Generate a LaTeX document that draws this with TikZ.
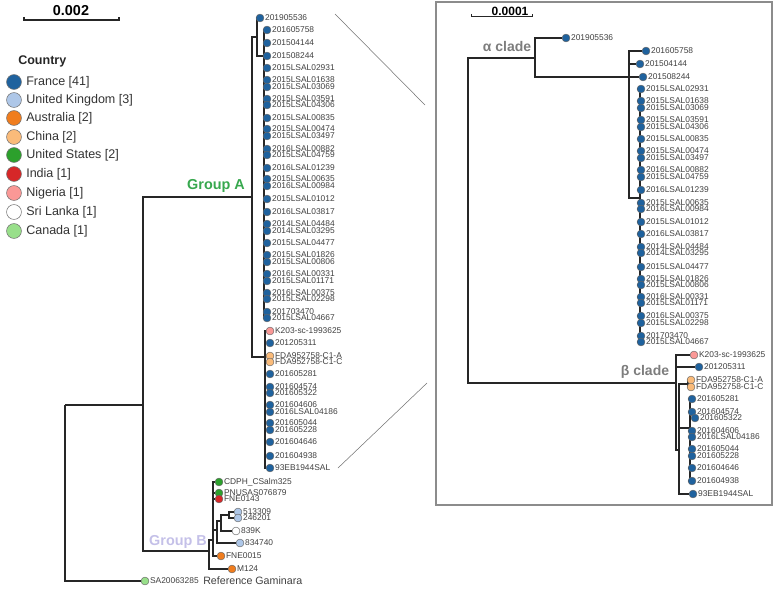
\documentclass[tikz,border=0pt]{standalone}
\usepackage{fontspec}
\setmainfont{Liberation Sans}
\pgfdeclarelayer{bg}
\pgfsetlayers{bg,main}
\definecolor{cFR}{RGB}{31,98,158}
\definecolor{cUK}{RGB}{174,199,232}
\definecolor{cAU}{RGB}{240,125,30}
\definecolor{cCN}{RGB}{250,187,122}
\definecolor{cUS}{RGB}{44,160,44}
\definecolor{cIN}{RGB}{214,39,40}
\definecolor{cNG}{RGB}{250,152,150}
\definecolor{cLK}{RGB}{255,255,255}
\definecolor{cCA}{RGB}{152,223,138}
\definecolor{grpA}{RGB}{55,168,78}
\definecolor{grpB}{RGB}{196,192,232}
\definecolor{clade}{RGB}{125,125,125}
\newcommand\leaf[5]{\node[dot,fill=#4] (#1) at (#2,#3) {}; \node[lab] at ([xshift=0.5pt]#1.east) {#5};}
\begin{document}
\begin{tikzpicture}[x=0.75pt,y=-0.75pt,
  br/.style={draw=black!85, line width=1.4pt},
  dot/.style={circle, inner sep=0pt, minimum size=5.9pt, draw=black!60, line width=0.35pt},
  lab/.style={anchor=west, inner sep=0pt, font=\fontsize{6.3}{7}\selectfont, text=black!75},
  leg/.style={circle, inner sep=0pt, minimum size=11.2pt, draw=black!55, line width=0.4pt},
  legt/.style={anchor=west, inner sep=0pt, font=\fontsize{9.4}{11}\selectfont, text=black!80},
  bar/.style={draw=black!85, line width=0.9pt},
  zoomline/.style={draw=black!55, line width=0.4pt},
  grp/.style={font=\bfseries\fontsize{10.8}{12}\selectfont, inner sep=0pt},
  cl/.style={font=\bfseries\fontsize{10.5}{12}\selectfont, inner sep=0pt, text=clade}]
\useasboundingbox (0,0) rectangle (777,592);

% ---------- scale bar and legend ----------
\coordinate (sb1) at (24,17); \coordinate (sb2) at (119,17);
\draw[bar] (sb1) -- ++(0,3) -| (sb2);
\node[font=\bfseries\fontsize{10.8}{12}\selectfont, inner sep=0pt] (sbl) at (71,11) {0.002};
\node[font=\bfseries\fontsize{9.4}{11}\selectfont, anchor=west, inner sep=0pt, text=black!85] (legtitle) at (18,61) {Country};
\foreach \i/\y/\c/\t in {1/82/cFR/France [41], 2/100/cUK/United Kingdom [3], 3/118/cAU/Australia [2],
  4/137/cCN/China [2], 5/155/cUS/United States [2], 6/174/cIN/India [1], 7/193/cNG/Nigeria [1],
  8/212/cLK/Sri Lanka [1], 9/231/cCA/Canada [1]}{
  \node[leg, fill=\c] (lg\i) at (14,\y) {};
  \node[legt] (lt\i) at (26,\y) {\t};
}

% ---------- left tree: internal nodes ----------
\coordinate (r0) at (65,405);
\coordinate (ab) at (143,405);
\coordinate (gA) at (252,197);
\coordinate (aL) at (257,37);
\coordinate (aL2) at (264,56);
\coordinate (bL) at (265,357);
\coordinate (gB) at (209,551);
\coordinate (b1) at (213,540);
\coordinate (b2) at (217,530);
\coordinate (b3) at (221,521);
\coordinate (b4) at (229,515);

% ---------- left tree: leaves ----------
\leaf{L1}{260}{18}{cFR}{201905536}
\foreach \n/\y/\t in {2/30/201605758, 3/43/201504144, 4/56/201508244, 5/68/2015LSAL02931,
  6/80/2015LSAL01638, 7/87/2015LSAL03069, 8/99/2015LSAL03591, 9/105/2015LSAL04306,
  10/118/2015LSAL00835, 11/129/2015LSAL00474, 12/136/2015LSAL03497, 13/149/2016LSAL00882,
  14/155/2015LSAL04759, 15/168/2016LSAL01239, 16/179/2015LSAL00635, 17/186/2016LSAL00984,
  18/199/2015LSAL01012, 19/212/2016LSAL03817, 20/224/2014LSAL04484, 21/231/2014LSAL03295,
  22/243/2015LSAL04477, 23/255/2015LSAL01826, 24/262/2015LSAL00806, 25/274/2016LSAL00331,
  26/281/2015LSAL01171, 27/293/2016LSAL00375, 28/299/2015LSAL02298, 29/312/201703470,
  30/318/2015LSAL04667}{\leaf{L\n}{267}{\y}{cFR}{\t}}
\leaf{L31}{270}{331}{cNG}{K203-sc-1993625}
\leaf{L32}{270}{343}{cFR}{201205311}
\leaf{L33}{270}{356}{cCN}{FDA952758-C1-A}
\leaf{L34}{270}{362}{cCN}{FDA952758-C1-C}
\foreach \n/\y/\t in {35/374/201605281, 36/387/201604574, 37/393/201605322, 38/405/201604606,
  39/412/2016LSAL04186, 40/423/201605044, 41/430/201605228, 42/442/201604646,
  43/456/201604938, 44/468/93EB1944SAL}{\leaf{L\n}{270}{\y}{cFR}{\t}}
\leaf{L45}{219}{482}{cUS}{CDPH\_CSalm325}
\leaf{L46}{219}{493}{cUS}{PNUSAS076879}
\leaf{L47}{219}{499}{cIN}{FNE0143}
\leaf{L48}{238}{512}{cUK}{513309}
\leaf{L49}{238}{518}{cUK}{246201}
\leaf{L50}{236}{531}{cLK}{839K}
\leaf{L51}{240}{543}{cUK}{834740}
\leaf{L52}{221}{556}{cAU}{FNE0015}
\leaf{L53}{232}{569}{cAU}{M124}
\node[dot, fill=cCA] (L54) at (145,581) {};
\node[lab] (L54t) at ([xshift=0.5pt]L54.east) {SA20063285};
\node[lab, font=\fontsize{8}{9}\selectfont] (refg) at (203,581) {Reference Gaminara};

\node[grp, text=grpA] (grpAl) at (216,186) {Group A};
\node[grp, text=grpB] (grpBl) at (178,542) {Group B};

% ---------- inset ----------
\draw[draw=black!45, line width=0.8pt] (436,2) rectangle (772,505);
\coordinate (sb3) at (471,14); \coordinate (sb4) at (532,14);
\draw[bar, line width=0.7pt] (sb3) -- ++(0,2.5) -| (sb4);
\node[font=\bfseries\fontsize{9}{10}\selectfont, inner sep=0pt] (sbr) at (510,11) {0.0001};

\coordinate (iR) at (468,220);
\coordinate (iA) at (535,58);
\coordinate (iA2) at (629,77);
\coordinate (iA3) at (640,198);
\coordinate (iB) at (676,383);
\coordinate (iB2) at (679,450);
\coordinate (iBf) at (688,384);
\coordinate (iBc) at (690,428);

\leaf{R1}{566}{38}{cFR}{201905536}
\leaf{R2}{646}{51}{cFR}{201605758}
\leaf{R3}{640}{64}{cFR}{201504144}
\leaf{R4}{643}{77}{cFR}{201508244}
\foreach \n/\y/\t in {5/89/2015LSAL02931,
  6/101/2015LSAL01638, 7/108/2015LSAL03069, 8/120/2015LSAL03591, 9/127/2015LSAL04306,
  10/139/2015LSAL00835, 11/151/2015LSAL00474, 12/158/2015LSAL03497, 13/170/2016LSAL00882,
  14/177/2015LSAL04759, 15/190/2016LSAL01239, 16/203/2015LSAL00635, 17/209/2016LSAL00984,
  18/222/2015LSAL01012, 19/234/2016LSAL03817, 20/247/2014LSAL04484, 21/253/2014LSAL03295,
  22/267/2015LSAL04477, 23/279/2015LSAL01826, 24/285/2015LSAL00806, 25/297/2016LSAL00331,
  26/303/2015LSAL01171, 27/316/2016LSAL00375, 28/323/2015LSAL02298, 29/336/201703470,
  30/342/2015LSAL04667}{\leaf{R\n}{641}{\y}{cFR}{\t}}
\leaf{R31}{694}{355}{cNG}{K203-sc-1993625}
\leaf{R32}{699}{367}{cFR}{201205311}
\leaf{R33}{691}{380}{cCN}{FDA952758-C1-A}
\leaf{R34}{691}{387}{cCN}{FDA952758-C1-C}
\foreach \n/\x/\y/\t in {35/692/399/201605281, 36/692/412/201604574, 37/695/418/201605322,
  38/692/431/201604606, 39/692/437/2016LSAL04186, 40/692/449/201605044, 41/692/456/201605228,
  42/692/468/201604646, 43/692/481/201604938}{\leaf{R\n}{\x}{\y}{cFR}{\t}}
\leaf{R44}{693}{494}{cFR}{93EB1944SAL}

\node[cl] (alphal) at (507,46) {α clade};
\node[cl] (betal) at (645,372) {β clade};

% ---------- zoom lines ----------
\coordinate (z1) at (335,14); \coordinate (z2) at (425,105);
\coordinate (z3) at (338,468); \coordinate (z4) at (427,383);
\draw[zoomline] (z1) -- (z2);
\draw[zoomline] (z3) -- (z4);

% ---------- branches ----------
\begin{pgfonlayer}{bg}
\draw[br] (r0) |- (ab);
\draw[br] (r0) |- (L54);
\draw[br] (ab) |- (gA);
\draw[br] (ab) |- (gB);
\draw[br] (gA) |- (aL);
\draw[br] (gA) |- (bL);
\draw[br] (aL) |- (L1);
\draw[br] (aL) |- (aL2);
\foreach \n in {2,...,30}{\draw[br] (aL2) |- (L\n);}
\foreach \n in {31,...,44}{\draw[br] (bL) |- (L\n);}
\draw[br] (gB) |- (L53);
\draw[br] (gB) |- (b1);
\foreach \n in {45,46,47,52}{\draw[br] (b1) |- (L\n);}
\draw[br] (b1) |- (b2);
\draw[br] (b2) |- (b3);
\draw[br] (b2) |- (L51);
\draw[br] (b3) |- (b4);
\draw[br] (b3) |- (L50);
\draw[br] (b4) |- (L48);
\draw[br] (b4) |- (L49);
% inset
\draw[br] (iR) |- (iA);
\draw[br] (iR) |- (iB);
\draw[br] (iA) |- (R1);
\draw[br] (iA) |- (iA2);
\foreach \n in {2,3,4}{\draw[br] (iA2) |- (R\n);}
\draw[br] (iA2) |- (iA3);
\foreach \n in {5,...,30}{\draw[br] (iA3) |- (R\n);}
\draw[br] (iB) |- (R31);
\draw[br] (iB) |- (R32);
\draw[br] (iB) |- (iB2);
\draw[br] (iB2) |- (iBf);
\draw[br] (iB2) |- (iBc);
\draw[br] (iB2) |- (R44);
\draw[br] (iBf) |- (R33);
\draw[br] (iBf) |- (R34);
\foreach \n in {35,...,43}{\draw[br] (iBc) |- (R\n);}
\end{pgfonlayer}
\end{tikzpicture}
\end{document}
